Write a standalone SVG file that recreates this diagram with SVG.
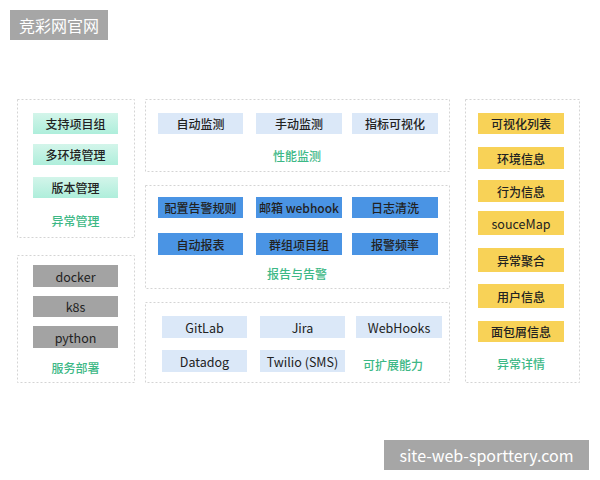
<svg xmlns="http://www.w3.org/2000/svg" width="600" height="480" viewBox="0 0 600 480">
<defs>
<linearGradient id="mint" x1="0" y1="0" x2="0" y2="1">
<stop offset="0" stop-color="#d3f5ea"/>
<stop offset="1" stop-color="#aeeedb"/>
</linearGradient>
<style>
.panel{fill:#fff;stroke:#d4d4d4;stroke-width:1;stroke-dasharray:2 2}
.t{font-family:"Noto Sans CJK SC","Noto Sans",sans-serif;font-size:12px;font-weight:500;fill:#222;text-anchor:middle;dominant-baseline:central}
.lt{font-weight:normal;font-size:12.5px}
.lbl{font-family:"Noto Sans CJK SC","Noto Sans",sans-serif;font-size:12px;font-weight:500;fill:#3db886;text-anchor:middle;dominant-baseline:central}
.mint{fill:url(#mint)}
.gray{fill:#a3a3a3}
.lblue{fill:#dbe8f8}
.blue{fill:#4a94e4}
.yel{fill:#f8d257}
.wm{fill:#a6a6a6}
.wmt{font-family:"Noto Sans CJK SC","DejaVu Sans",sans-serif;font-size:16px;fill:#fff;dominant-baseline:central;text-anchor:middle}
</style>
</defs>
<rect width="600" height="480" fill="#fff"/>
<g id="header">
<rect class="wm" x="10" y="10" width="98" height="30"/>
<text class="wmt" x="59" y="25">竞彩网官网</text>
</g>
<g id="panel-yichang-guanli">
<rect class="panel" x="17.5" y="99.5" width="117" height="138"/>
<rect class="mint" x="33" y="113" width="85" height="21"/><text class="t" x="75.5" y="123.5">支持项目组</text>
<rect class="mint" x="33" y="144" width="85" height="21"/><text class="t" x="75.5" y="154.5">多环境管理</text>
<rect class="mint" x="33" y="177" width="85" height="21"/><text class="t" x="75.5" y="187.5">版本管理</text>
<text class="lbl" x="75.5" y="220">异常管理</text>
</g>
<g id="panel-fuwu-bushu">
<rect class="panel" x="17.5" y="255.5" width="117" height="127"/>
<rect class="gray" x="33" y="265" width="85" height="22"/><text class="t lt" x="75.5" y="276">docker</text>
<rect class="gray" x="33" y="296" width="85" height="21"/><text class="t lt" x="75.5" y="306.5">k8s</text>
<rect class="gray" x="33" y="326" width="85" height="22"/><text class="t lt" x="75.5" y="337">python</text>
<text class="lbl" x="75.5" y="367">服务部署</text>
</g>
<g id="panel-xingneng">
<rect class="panel" x="145.5" y="99.5" width="304" height="72"/>
<rect class="lblue" x="158" y="113" width="85" height="21"/><text class="t" x="200.5" y="123.5">自动监测</text>
<rect class="lblue" x="256" y="113" width="86" height="21"/><text class="t" x="299" y="123.5">手动监测</text>
<rect class="lblue" x="352" y="113" width="86" height="21"/><text class="t" x="395" y="123.5">指标可视化</text>
<text class="lbl" x="297" y="155.5">性能监测</text>
</g>
<g id="panel-baogao">
<rect class="panel" x="145.5" y="185.5" width="304" height="103"/>
<rect class="blue" x="158" y="197" width="85" height="21"/><text class="t" x="200.5" y="207.5">配置告警规则</text>
<rect class="blue" x="256" y="197" width="86" height="21"/><text class="t" x="299" y="207.5">邮箱 webhook</text>
<rect class="blue" x="352" y="197" width="86" height="21"/><text class="t" x="395" y="207.5">日志清洗</text>
<rect class="blue" x="158" y="233" width="85" height="22"/><text class="t" x="200.5" y="244">自动报表</text>
<rect class="blue" x="256" y="233" width="86" height="22"/><text class="t" x="299" y="244">群组项目组</text>
<rect class="blue" x="352" y="233" width="86" height="22"/><text class="t" x="395" y="244">报警频率</text>
<text class="lbl" x="297" y="273.5">报告与告警</text>
</g>
<g id="panel-kuozhan">
<rect class="panel" x="145.5" y="302.5" width="304" height="80"/>
<rect class="lblue" x="162" y="316" width="85" height="22"/><text class="t lt" x="204.5" y="327">GitLab</text>
<rect class="lblue" x="260" y="316" width="85" height="22"/><text class="t lt" x="302.5" y="327">Jira</text>
<rect class="lblue" x="356" y="316" width="86" height="22"/><text class="t lt" x="399" y="327">WebHooks</text>
<rect class="lblue" x="162" y="350" width="85" height="22"/><text class="t lt" x="204.5" y="361">Datadog</text>
<rect class="lblue" x="260" y="350" width="85" height="22"/><text class="t lt" x="302.5" y="361">Twilio (SMS)</text>
<text class="lbl" x="393" y="364">可扩展能力</text>
</g>
<g id="panel-xiangqing">
<rect class="panel" x="465.5" y="99.5" width="114" height="283"/>
<rect class="yel" x="478" y="113" width="86" height="21"/><text class="t" x="521" y="123.5">可视化列表</text>
<rect class="yel" x="478" y="147" width="86" height="22"/><text class="t" x="521" y="158">环境信息</text>
<rect class="yel" x="478" y="180" width="86" height="22"/><text class="t" x="521" y="191">行为信息</text>
<rect class="yel" x="478" y="211" width="86" height="24"/><text class="t lt" x="521" y="223">souceMap</text>
<rect class="yel" x="478" y="248" width="86" height="24"/><text class="t" x="521" y="260">异常聚合</text>
<rect class="yel" x="478" y="284" width="86" height="24"/><text class="t" x="521" y="296">用户信息</text>
<rect class="yel" x="478" y="321" width="86" height="21"/><text class="t" x="521" y="331.5">面包屑信息</text>
<text class="lbl" x="521" y="363">异常详情</text>
</g>
<g id="connectors"></g>
<g id="footer">
<rect class="wm" x="384" y="440" width="205" height="30"/>
<text class="wmt" x="486.5" y="455">site-web-sporttery.com</text>
</g>
</svg>
